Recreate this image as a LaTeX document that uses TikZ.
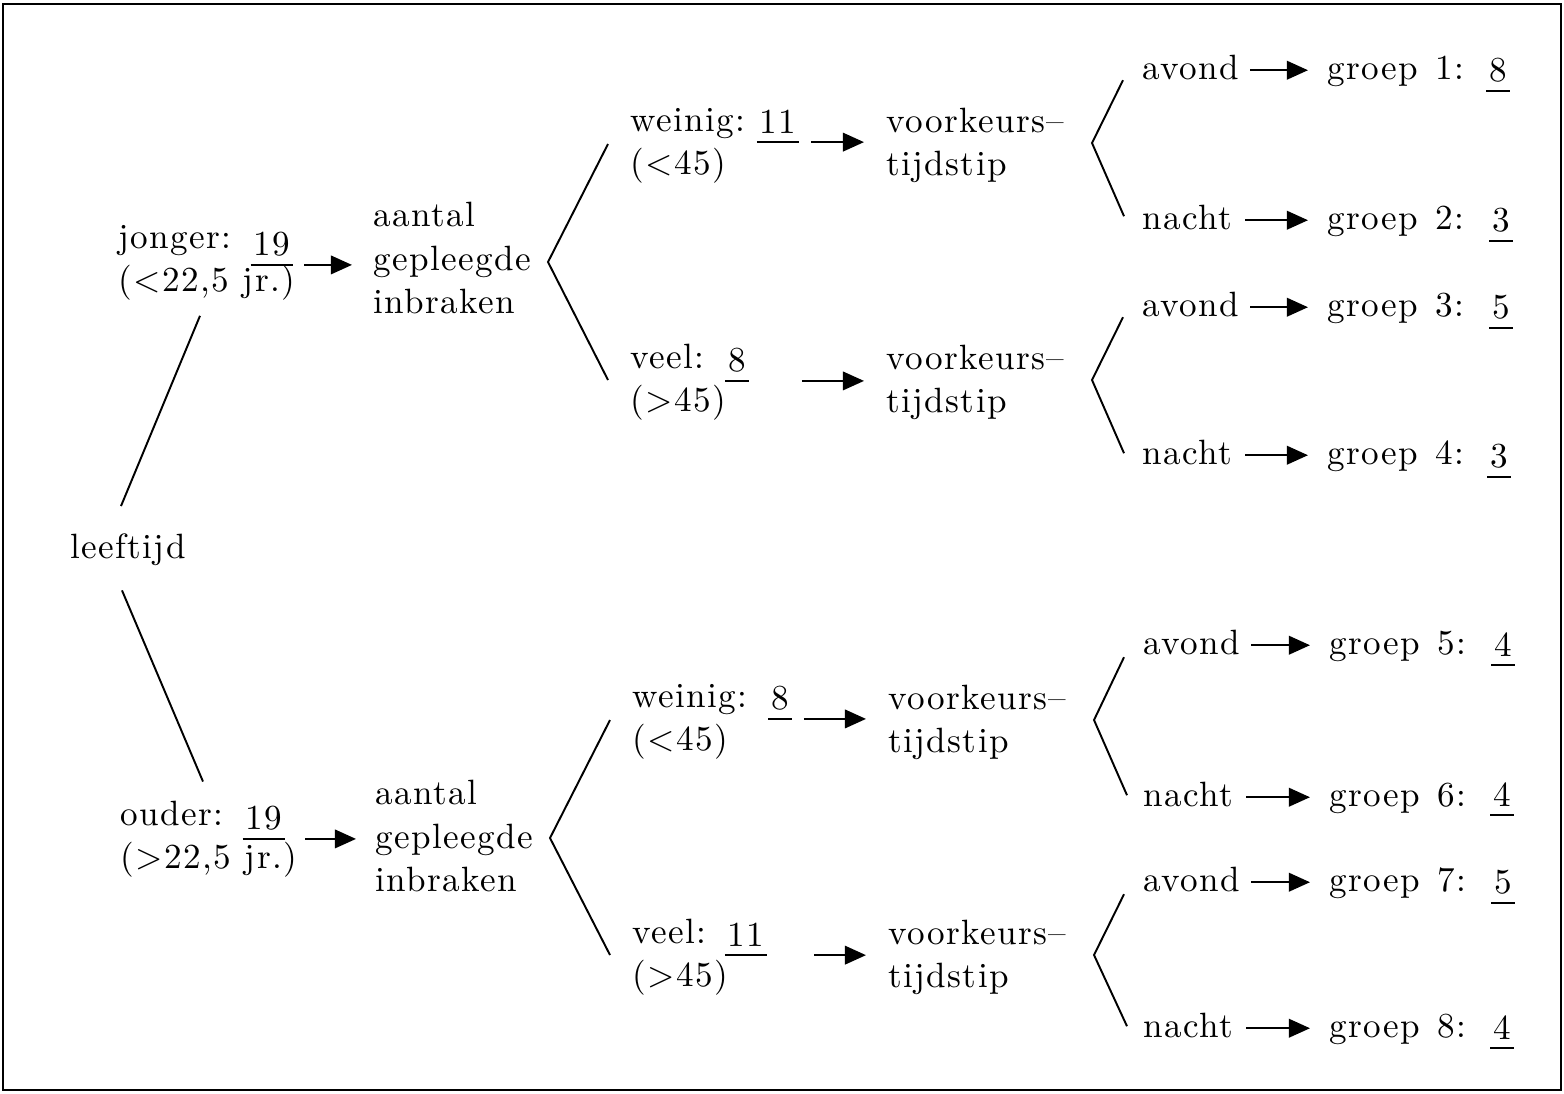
\documentclass[tikz,border=0pt]{standalone}
\usepackage{fontspec}
\setmainfont{lmroman10-regular.otf}[LetterSpace=4]
\usepackage{tikz}
\usetikzlibrary{arrows.meta,positioning}

\tikzset{
  tekst/.style={anchor=west, inner sep=0pt, align=left},
  woord/.style={anchor=base west, inner sep=0pt, text height=14pt, text depth=4pt},
  getal/.style={anchor=base, inner xsep=1.5pt, inner ysep=5pt},
  pijl/.style={-{Triangle[length=12pt,width=10.5pt]}, line width=1.3pt, shorten <=0.22cm, shorten >=0.42cm},
  tak/.style={line width=1.1pt},
  streep/.style={line width=1.1pt}
}

\begin{document}
\begin{tikzpicture}[x=0.02cm, y=-0.02cm, font=\fontsize{20}{24.5}\selectfont]
\useasboundingbox (0,0) rectangle (1564,1093);
\draw[line width=1.2pt] (3,4) rectangle (1561,1090);

%Nodes
\node[woord] (lft)  at (70,558)   {leeftijd};

\node[tekst] (jo)   at (118,263)  {jonger:\\(<22,5\hspace{8pt}jr.)};
\node[getal] (jo19) at (272,255)  {19};
\node[tekst] (ag1)  at (373,258)  {aantal\\gepleegde\\inbraken};
\node[tekst] (w1)   at (630,146)  {weinig:\\(<45)};
\node[getal] (w1n)  at (778,133)  {11};
\node[tekst] (t1)   at (886,145)  {voorkeurs--\\tijdstip};
\node[tekst] (v1)   at (630,382)  {veel:\\(>45)};
\node[getal] (v1n)  at (737,371)  {8};
\node[tekst] (t2)   at (886,382)  {voorkeurs--\\tijdstip};

\node[tekst] (ou)   at (120,839)  {ouder:\\(>22,5\hspace{8pt}jr.)};
\node[getal] (ou19) at (264,829)  {19};
\node[tekst] (ag2)  at (375,836)  {aantal\\gepleegde\\inbraken};
\node[tekst] (w2)   at (632,722)  {weinig:\\(<45)};
\node[getal] (w2n)  at (780,709)  {8};
\node[tekst] (t3)   at (888,722)  {voorkeurs--\\tijdstip};
\node[tekst] (v2)   at (632,957)  {veel:\\(>45)};
\node[getal] (v2n)  at (746,946)  {11};
\node[tekst] (t4)   at (888,957)  {voorkeurs--\\tijdstip};

\node[woord] (av1) at (1142,79)   {avond};
\node[woord] (na1) at (1142,229)  {nacht};
\node[woord] (av2) at (1142,316)  {avond};
\node[woord] (na2) at (1142,464)  {nacht};
\node[woord] (av3) at (1143,654)  {avond};
\node[woord] (na3) at (1143,806)  {nacht};
\node[woord] (av4) at (1143,891)  {avond};
\node[woord] (na4) at (1143,1037) {nacht};

\node[woord] (g1) at (1327,79)   {groep\hspace{10pt}1:};
\node[woord] (g2) at (1327,229)  {groep\hspace{10pt}2:};
\node[woord] (g3) at (1327,316)  {groep\hspace{10pt}3:};
\node[woord] (g4) at (1327,464)  {groep\hspace{10pt}4:};
\node[woord] (g5) at (1329,654)  {groep\hspace{10pt}5:};
\node[woord] (g6) at (1329,806)  {groep\hspace{10pt}6:};
\node[woord] (g7) at (1329,891)  {groep\hspace{10pt}7:};
\node[woord] (g8) at (1329,1037) {groep\hspace{10pt}8:};

\node[getal] (g1n) at (1498,81)   {8};
\node[getal] (g2n) at (1501,231)  {3};
\node[getal] (g3n) at (1501,318)  {5};
\node[getal] (g4n) at (1499,467)  {3};
\node[getal] (g5n) at (1503,656)  {4};
\node[getal] (g6n) at (1502,806)  {4};
\node[getal] (g7n) at (1503,893)  {5};
\node[getal] (g8n) at (1502,1039) {4};

%Underlines
\foreach \n in {jo19,w1n,v1n,ou19,w2n,v2n,g1n,g2n,g3n,g4n,g5n,g6n,g7n,g8n}
  \draw[streep] (\n.south west) -- (\n.south east);

%Brackets
\coordinate (k1) at (548,262);
\coordinate (k2) at (1092,143);
\coordinate (k3) at (1092,380);
\coordinate (k4) at (550,838);
\coordinate (k5) at (1094,720);
\coordinate (k6) at (1094,955);

\draw[tak] ([shift={(82,15)}]jo.south west) -- ([shift={(-7,-27)}]lft.north);
\draw[tak] ([shift={(-6,25)}]lft.south) -- ([shift={(83,-19)}]ou.north west);

\draw[tak] ([shift={(-22,-2)}]w1.west) -- (k1) -- ([shift={(-22,-2)}]v1.west);
\draw[tak] ([shift={(-22,-2)}]w2.west) -- (k4) -- ([shift={(-22,-2)}]v2.west);

\draw[tak] ([shift={(-19,10)}]av1.west) -- (k2) -- ([shift={(-18,-4)}]na1.west);
\draw[tak] ([shift={(-19,10)}]av2.west) -- (k3) -- ([shift={(-18,-2)}]na2.west);
\draw[tak] ([shift={(-19,12)}]av3.west) -- (k5) -- ([shift={(-16,-2)}]na3.west);
\draw[tak] ([shift={(-19,12)}]av4.west) -- (k6) -- ([shift={(-16,-2)}]na4.west);

%Arrows
\draw[pijl] (jo19.south east) -- (jo19.south east -| ag1.west);
\draw[pijl, shorten <=0.4cm, shorten >=0.38cm] (ou19.south east) -- (ou19.south east -| ag2.west);
\draw[pijl, shorten <=0.24cm, shorten >=0.44cm] (w1n.south east) -- (w1n.south east -| t1.west);
\draw[pijl, shorten <=1.06cm, shorten >=0.44cm] (v1n.south east) -- (v1n.south east -| t2.west);
\draw[pijl, shorten <=0.24cm, shorten >=0.44cm] (w2n.south east) -- (w2n.south east -| t3.west);
\draw[pijl, shorten <=0.94cm, shorten >=0.44cm] (v2n.south east) -- (v2n.south east -| t4.west);

\foreach \a/\g in {av1/g1,av2/g3,av3/g5,av4/g7}
  \draw[pijl, shorten <=0.22cm, shorten >=0.38cm] (\a.east) -- (\g.west);
\foreach \a/\g in {na1/g2,na2/g4,na3/g6,na4/g8}
  \draw[pijl, shorten <=0.26cm, shorten >=0.38cm] (\a.east) -- (\g.west);
\end{tikzpicture}
\end{document}
